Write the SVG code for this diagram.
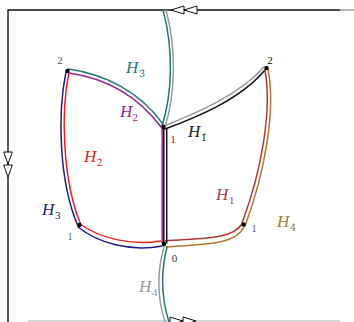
<svg xmlns="http://www.w3.org/2000/svg" width="354" height="322" viewBox="0 0 354 322">
<style>
.e{fill:none;stroke-width:1.5;stroke-linecap:round}
.teal{stroke:#1f7a78}.gray{stroke:#9a9a9a}.purple{stroke:#952596}.blk{stroke:#111}
.red{stroke:#f02020}.blue{stroke:#1c1c8e}.bred{stroke:#b03a3a}.gold{stroke:#b5782a}
.fr{fill:none;stroke:#111;stroke-width:1.4}
.arr{fill:#fff;stroke:#111;stroke-width:1}
.H{font-family:"Liberation Serif",serif;font-style:italic;font-size:17px}
.s{font-family:"Liberation Serif",serif;font-size:11px}
.sh{font-family:"DejaVu Serif",serif;font-size:9.5px}
.n{font-family:"Liberation Serif",serif;font-size:11px;text-anchor:middle}
.v{fill:#000}
</style>
<g id="frame">
<path class="fr" d="M340,10 H8 V322"/>
<line x1="340" y1="10" x2="354" y2="10" stroke="#888" stroke-width="1.2"/>
<line x1="28" y1="321" x2="340" y2="321" stroke="#aaa" stroke-width="1.2"/>
<path class="arr" d="M171,10 L184,6 L184,14 Z M184,10 L197,6 L197,14 Z"/>
<path class="arr" d="M8,164 L3.7,152 L12.3,152 Z M8,177 L3.7,165 L12.3,165 Z"/>
<path class="arr" d="M183,321 L170,317 L170,325 Z M196,321 L183,317 L183,325 Z"/>
</g>
<g id="connectors">
<path class="e teal" d="M163,10 C174,50 172,95 162,126"/>
<path class="e gray" d="M166,10 C177,50 175,95 165,127"/>
<path class="e teal" d="M68,69 C105,74 140,92 163,124"/>
<path class="e purple" d="M69,73 C104,78 137,95 161,127"/>
<path class="e gray" d="M164,126 C194,114 238,96 264,67"/>
<path class="e blk" d="M165,129 C195,118 240,100 265,70"/>
<path class="e bred" d="M265,70 C272,110 262,170 242,223"/>
<path class="e gold" d="M268,69 C276,110 265,172 245,226"/>
<path class="e bred" d="M242,224 C232,240 200,238 165,241"/>
<path class="e gold" d="M244,227 C235,246 200,244 166,247"/>
<path class="e blue" d="M66,72 C58,110 58,180 78,226"/>
<path class="e red" d="M69,72 C61,110 62,180 81,225"/>
<path class="e red" d="M80,224 C100,238 130,246 161,241"/>
<path class="e blue" d="M78,227 C98,243 130,252 162,246"/>
<path class="e gray" d="M164,247 C156,275 158,300 165,322"/>
<path class="e teal" d="M167,247 C160,275 162,300 169,322"/>
<line class="e purple" x1="162.2" y1="128" x2="162.2" y2="243" stroke-width="1.2"/>
<line class="e blk" x1="163.8" y1="128" x2="163.8" y2="243" stroke-width="1.1"/>
<line class="e blk" x1="166.7" y1="129" x2="166.7" y2="243" stroke-width="1.2"/>
</g>
<g id="v_center"><circle class="v" cx="163.5" cy="127" r="2.2"/><text class="n" x="173" y="143" fill="#444">1</text></g>
<g id="v_bottom"><circle class="v" cx="164" cy="244" r="2.2"/><text class="n" x="174.5" y="262" fill="#333">0</text></g>
<g id="v_lefttop"><circle class="v" cx="67.5" cy="71" r="2.2"/><text class="n" x="60" y="64" fill="#4a4aa0">2</text></g>
<g id="v_leftbottom"><circle class="v" cx="79.5" cy="225" r="2.2"/><text class="n" x="70" y="240" fill="#6a6ab8">1</text></g>
<g id="v_righttop"><circle class="v" cx="266.5" cy="68" r="2.2"/><text class="n" x="270" y="64" fill="#222">2</text></g>
<g id="v_rightbottom"><circle class="v" cx="243.5" cy="224.5" r="2.2"/><text class="n" x="254" y="232" fill="#5555aa">1</text></g>
<g id="labels">
<g fill="#1f7a78"><text class="H" x="126" y="73">H</text><text class="sh" x="139" y="77">3&#x302;</text></g>
<g fill="#952596"><text class="H" x="120" y="117">H</text><text class="s" x="132.5" y="121">2</text></g>
<g fill="#222"><text class="H" x="188" y="137">H</text><text class="sh" x="201" y="141">1&#x302;</text></g>
<g fill="#f02020"><text class="H" x="84" y="162">H</text><text class="sh" x="96.5" y="166">2&#x302;</text></g>
<g fill="#1c1c8e"><text class="H" x="42" y="215">H</text><text class="s" x="55" y="219">3</text></g>
<g fill="#a84040"><text class="H" x="216" y="200">H</text><text class="s" x="229" y="204">1</text></g>
<g fill="#a87c38"><text class="H" x="277" y="227">H</text><text class="sh" x="290" y="231">4&#x302;</text></g>
<g fill="#999"><text class="H" x="139" y="292">H</text><text class="s" x="152" y="296">4</text></g>
</g>
</svg>
